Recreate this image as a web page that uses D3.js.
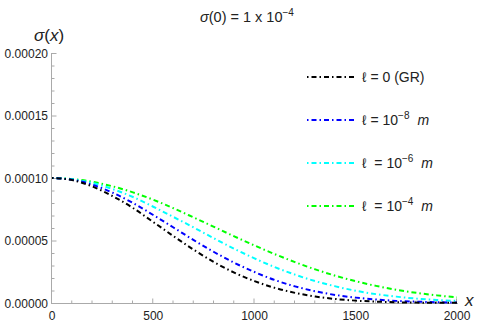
<!DOCTYPE html>
<html>
<head>
<meta charset="utf-8">
<script src="https://cdn.jsdelivr.net/npm/d3@7"></script>
<style>
  body { margin: 0; background: #fff; }
  svg text { font-family: "Liberation Sans", Arial, sans-serif; fill: #222; }
</style>
</head>
<body>
<svg id="chart" width="480" height="327"></svg>
<script>
// x positions sampled along each curve
var xs = [0, 100, 200, 300, 400, 500, 600, 700, 800, 900, 1000,
          1100, 1200, 1300, 1400, 1500, 1600, 1700, 1800, 1900, 2000];

// sigma(x)
var sigmaGR = [1.000e-4, 0.983e-4, 0.932e-4, 0.854e-4, 0.760e-4, 0.648e-4, 0.535e-4, 0.426e-4, 0.327e-4, 0.243e-4, 0.175e-4,
               0.121e-4, 0.081e-4, 0.052e-4, 0.032e-4, 0.019e-4, 0.011e-4, 0.006e-4, 0.003e-4, 0.002e-4, 0.001e-4];
var sigmaL8 = [1.000e-4, 0.986e-4, 0.946e-4, 0.882e-4, 0.800e-4, 0.704e-4, 0.604e-4, 0.503e-4, 0.408e-4, 0.322e-4, 0.248e-4,
               0.184e-4, 0.133e-4, 0.094e-4, 0.064e-4, 0.043e-4, 0.028e-4, 0.017e-4, 0.011e-4, 0.006e-4, 0.004e-4];
var sigmaL6 = [1.000e-4, 0.990e-4, 0.960e-4, 0.911e-4, 0.848e-4, 0.770e-4, 0.688e-4, 0.604e-4, 0.517e-4, 0.434e-4, 0.357e-4,
               0.287e-4, 0.227e-4, 0.175e-4, 0.133e-4, 0.098e-4, 0.071e-4, 0.051e-4, 0.035e-4, 0.024e-4, 0.017e-4];
var sigmaL4 = [1.000e-4, 0.992e-4, 0.969e-4, 0.933e-4, 0.885e-4, 0.826e-4, 0.758e-4, 0.684e-4, 0.609e-4, 0.533e-4, 0.460e-4,
               0.391e-4, 0.327e-4, 0.269e-4, 0.218e-4, 0.174e-4, 0.137e-4, 0.106e-4, 0.081e-4, 0.061e-4, 0.045e-4];

var xTicks = [0, 500, 1000, 1500, 2000];
var yTicks = [0, 0.00005, 0.0001, 0.00015, 0.0002];
var yTickLabels = ["0.00000", "0.00005", "0.00010", "0.00015", "0.00020"];

var series = [
    {values: sigmaGR, color: "#000000", label: ["0 (GR)", null], gap: " = "},
    {values: sigmaL8, color: "#0000ff", label: ["10", "\u22128"], gap: " = "},
    {values: sigmaL6, color: "#00ffff", label: ["10", "\u22126"], gap: "  = "},
    {values: sigmaL4, color: "#00ff00", label: ["10", "\u22124"], gap: "  = "}
];

var svg = d3.select("#chart");
var plotLeft = 52, plotRight = 457, plotTop = 53, plotBottom = 303;

var x = d3.scaleLinear().domain([0, 2000]).range([plotLeft, plotRight]);
var y = d3.scaleLinear().domain([0, 0.0002]).range([plotBottom, plotTop]);

var axisColor = "#aaaaaa";
var dash = "1.5,3,5,3";

// ticks (inward, Mathematica style)
var gAxes = svg.append("g");
gAxes.selectAll("line.xminor")
    .data(d3.range(0, 2001, 100))
    .enter().append("line")
    .attr("x1", function (d) { return x(d) - 0.5; })
    .attr("x2", function (d) { return x(d) - 0.5; })
    .attr("y1", plotBottom)
    .attr("y2", function (d) { return d % 500 === 0 ? plotBottom - 4.5 : plotBottom - 2.5; })
    .attr("stroke", axisColor);

gAxes.selectAll("line.yminor")
    .data(d3.range(0, 21))
    .enter().append("line")
    .attr("y1", function (d) { return y(d * 0.00001) + 0.5; })
    .attr("y2", function (d) { return y(d * 0.00001) + 0.5; })
    .attr("x1", plotLeft)
    .attr("x2", function (d) { return d % 5 === 0 ? plotLeft + 4.5 : plotLeft + 2.5; })
    .attr("stroke", axisColor);

gAxes.append("line")
    .attr("x1", plotLeft).attr("x2", plotRight + 1)
    .attr("y1", plotBottom + 0.5).attr("y2", plotBottom + 0.5)
    .attr("stroke", axisColor);
gAxes.append("line")
    .attr("x1", plotLeft - 0.5).attr("x2", plotLeft - 0.5)
    .attr("y1", plotBottom + 1).attr("y2", plotTop)
    .attr("stroke", axisColor);

// tick labels
svg.selectAll("text.xlab")
    .data(xTicks)
    .enter().append("text")
    .attr("x", function (d) { return x(d); })
    .attr("y", 320)
    .attr("text-anchor", "middle")
    .attr("font-size", 12)
    .text(function (d) { return d; });

svg.selectAll("text.ylab")
    .data(yTicks)
    .enter().append("text")
    .attr("x", 48)
    .attr("y", function (d) { return y(d) + 4.5; })
    .attr("text-anchor", "end")
    .attr("font-size", 12)
    .text(function (d, i) { return yTickLabels[i]; });

// axis labels
var yl = svg.append("text").attr("x", 34).attr("y", 41).attr("font-size", 17);
yl.append("tspan").attr("font-style", "italic").text("\u03c3");
yl.append("tspan").text("(");
yl.append("tspan").attr("font-style", "italic").text("x");
yl.append("tspan").text(")");

svg.append("text").attr("x", 465).attr("y", 306)
    .attr("font-size", 17).attr("font-style", "italic").text("x");

// title
var t = svg.append("text").attr("x", 200).attr("y", 22).attr("font-size", 14.5);
t.append("tspan").attr("font-style", "italic").text("\u03c3");
t.append("tspan").text("(0) = 1 x 10");
t.append("tspan").attr("dy", -6).attr("font-size", 10).text("\u22124");

// curves
var line = d3.line()
    .x(function (d, i) { return x(xs[i]); })
    .y(function (d) { return y(d); })
    .curve(d3.curveMonotoneX);

svg.selectAll("path.curve")
    .data(series.slice().reverse())
    .enter().append("path")
    .attr("d", function (d) { return line(d.values); })
    .attr("fill", "none")
    .attr("stroke", function (d) { return d.color; })
    .attr("stroke-width", 2)
    .attr("stroke-dasharray", dash);

// legend
var rowY = [77, 120, 163, 206];
series.forEach(function (s, i) {
    svg.append("line")
        .attr("x1", 307).attr("x2", 354)
        .attr("y1", rowY[i]).attr("y2", rowY[i])
        .attr("stroke", s.color).attr("stroke-width", 2)
        .attr("stroke-dasharray", dash);
    var lt = svg.append("text").attr("x", 362).attr("y", rowY[i] + 5)
        .attr("font-size", 14).attr("xml:space", "preserve");
    lt.append("tspan").text("\u2113");
    lt.append("tspan").text(s.gap + s.label[0]);
    if (s.label[1] !== null) {
        lt.append("tspan").attr("dy", -6).attr("font-size", 10).text(s.label[1]);
        lt.append("tspan").attr("dy", 6).attr("dx", 8).attr("font-style", "italic").text("m");
    }
});
</script>
</body>
</html>
